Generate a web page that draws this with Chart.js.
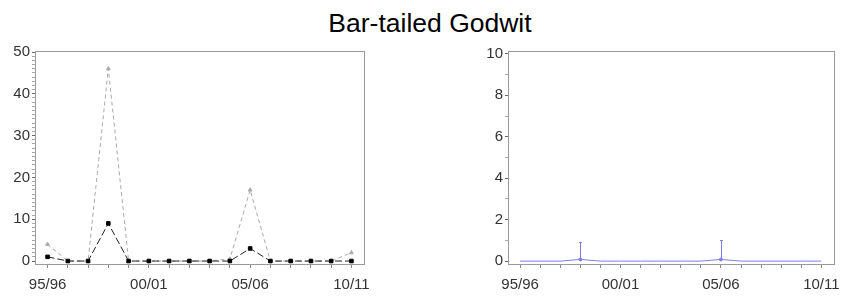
<!DOCTYPE html>
<html>
<head>
<meta charset="utf-8">
<script src="https://cdn.jsdelivr.net/npm/chart.js@4.4.0/dist/chart.umd.min.js"></script>
<style>
body { margin:0; background:#fff; width:848px; height:297px; overflow:hidden; position:relative; font-family:"Liberation Sans", Arial, sans-serif; }
#titulo { position:absolute; left:0; top:11px; width:860px; text-align:center; font-size:26.5px; line-height:25px; color:#000; }
.caja { position:absolute; top:40px; height:257px; }
</style>
</head>
<body>
<div id="titulo">Bar-tailed Godwit</div>
<div class="caja" style="left:0;width:420px"><canvas id="grafica1"></canvas></div>
<div class="caja" style="left:420px;width:428px"><canvas id="grafica2"></canvas></div>
<script>
// temporadas (eje x)
const temporadas = ['95/96','96/97','97/98','98/99','99/00','00/01','01/02','02/03',
                    '03/04','04/05','05/06','06/07','07/08','08/09','09/10','10/11'];
// grafica 1: conteo maximo (gris) y conteo medio (negro)
const conteoMaximo = [4, 0, 0, 46, 0, 0, 0, 0, 0, 0.5, 17, 0, 0, 0, 0, 2];
const conteoMedio  = [1, 0, 0, 9, 0, 0, 0, 0, 0, 0, 3, 0, 0, 0, 0, 0];
// grafica 2: indice con limite superior
const indice         = [0, 0, 0, 0.08, 0, 0, 0, 0, 0, 0, 0.08, 0, 0, 0, 0, 0];
const indiceSuperior = [null, null, null, 0.9, null, null, null, null, null, null, 1.0, null, null, null, null, null];
// etiquetas del eje y
const ticksY1 = [0, 10, 20, 30, 40, 50];
const ticksY2 = [0, 2, 4, 6, 8, 10];

const azul = 'rgb(125,125,235)';
const fuente = { family: '"Liberation Sans", Arial, sans-serif', size: 15 };

Chart.defaults.animation = false;

function puntos(arreglo){
    return arreglo.map((v, i) => ({ x: i, y: v }));
}

// marco gris alrededor del area
const marco = {
    id: 'marco',
    beforeDatasetsDraw(chart){
        const a = chart.chartArea, ctx = chart.ctx;
        ctx.save();
        ctx.strokeStyle = '#999';
        ctx.lineWidth = 1;
        ctx.strokeRect(Math.round(a.left) + 0.5, Math.round(a.top) + 0.5,
                       Math.round(a.right - a.left), Math.round(a.bottom - a.top));
        ctx.restore();
    }
};

const barrasError = {
    id: 'barrasError',
    afterDatasetsDraw(chart){
        const x = chart.scales.x, y = chart.scales.y, ctx = chart.ctx;
        ctx.save();
        ctx.strokeStyle = azul;
        ctx.lineWidth = 1;
        indiceSuperior.forEach((v, i) => {
            if (v == null) return;
            const px = Math.round(x.getPixelForValue(i)) + 0.5;
            const y0 = y.getPixelForValue(indice[i]);
            const y1 = Math.round(y.getPixelForValue(v)) + 0.5;
            ctx.beginPath();
            ctx.moveTo(px, y0); ctx.lineTo(px, y1);
            ctx.moveTo(px - 1.5, y1); ctx.lineTo(px + 1.5, y1);
            ctx.stroke();
        });
        ctx.restore();
    }
};

function ejeX(min, max){
    return {
        type: 'linear', min: min, max: max,
        afterBuildTicks: s => { s.ticks = temporadas.map((t, i) => ({ value: i })); },
        afterFit: s => { s.height = 33; },
        border: { display: false },
        grid: { drawOnChartArea: false, drawTicks: true, tickLength: 4, tickColor: '#888' },
        ticks: {
            autoSkip: false, maxRotation: 0, padding: 8, color: '#333', font: fuente,
            callback: v => (v % 5 === 0 ? temporadas[v] : '')
        }
    };
}

function ejeY(min, max, etiquetas, paso, ancho){
    const todos = [];
    for (let v = 0; v <= etiquetas[etiquetas.length - 1]; v += paso) todos.push(v);
    return {
        type: 'linear', min: min, max: max,
        afterBuildTicks: s => { s.ticks = todos.map(v => ({ value: v })); },
        afterFit: s => { s.width = ancho; },
        border: { display: false },
        grid: {
            drawOnChartArea: false, drawTicks: true, tickLength: 3,
            tickColor: c => (etiquetas.includes(c.tick.value) ? '#666' : '#aaa')
        },
        ticks: {
            autoSkip: false, padding: 2, color: '#333', font: fuente,
            callback: v => (etiquetas.includes(v) ? v : '')
        }
    };
}

new Chart(document.getElementById('grafica1'), {
    type: 'line',
    data: {
        datasets: [{
            data: puntos(conteoMedio),
            borderColor: '#222',
            borderWidth: 1,
            borderDash: [7, 3],
            pointStyle: 'rect',
            pointRadius: 2.5,
            pointBackgroundColor: '#000',
            pointBorderColor: '#000',
            tension: 0
        },
        {
            data: puntos(conteoMaximo),
            borderColor: '#aaa',
            borderWidth: 1,
            borderDash: [4, 3],
            pointStyle: 'triangle',
            pointRadius: 2.2,
            pointBackgroundColor: '#aaa',
            pointBorderColor: '#aaa',
            tension: 0
        }]
    },
    options: {
        responsive: true,
        maintainAspectRatio: false,
        layout: { padding: { top: 9, right: 56, left: 0, bottom: 0 } },
        plugins: { legend: { display: false }, tooltip: { enabled: false } },
        scales: {
            x: ejeX(-0.62, 15.62),
            y: ejeY(-0.71, 50.24, ticksY1, 1, 35)
        }
    },
    plugins: [marco]
});

new Chart(document.getElementById('grafica2'), {
    type: 'line',
    data: {
        datasets: [{
            data: puntos(indice),
            borderColor: azul,
            borderWidth: 1,
            pointRadius: c => (indiceSuperior[c.dataIndex] != null ? 1.5 : 0),
            pointBackgroundColor: azul,
            pointBorderColor: azul,
            tension: 0
        }]
    },
    options: {
        responsive: true,
        maintainAspectRatio: false,
        layout: { padding: { top: 8, right: 11, left: 0, bottom: 0 } },
        plugins: { legend: { display: false }, tooltip: { enabled: false } },
        scales: {
            x: ejeX(-0.6, 15.64),
            y: ejeY(-0.14, 10.14, ticksY2, 1, 88)
        }
    },
    plugins: [marco, barrasError]
});
</script>
</body>
</html>
